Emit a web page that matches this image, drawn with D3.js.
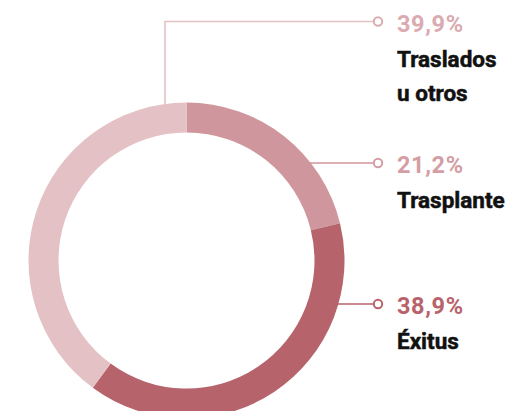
<!DOCTYPE html>
<html lang="es">
  <head>
    <meta charset="utf-8" />
    <title>Donut</title>
    <script src="https://d3js.org/d3.v7.min.js"></script>
    <style>
      body { margin: 0; background: #fff; }
      text { font-family: Roboto, sans-serif; }
    </style>
  </head>
  <body>
    <script>

    // data
    var categories = ["Trasplante", "Éxitus", "Traslados u otros"];
    var values = [21.2, 38.9, 39.9];
    var valueLabels = ["21,2%", "38,9%", "39,9%"];
    var colors = ["#cf979d", "#b6636b", "#e3c1c5"];
    var textColors = ["#d39ea4", "#b8636c", "#daabb0"];

    var w = 516, h = 411;
    var cx = 186.5, cy = 260.5;
    var outer = 158, inner = 128;

    var svg = d3.select("body")
      .append("svg")
        .attr("width", w)
        .attr("height", h);

    var data = categories.map((c, i) => ({name: c, value: values[i], label: valueLabels[i], color: colors[i], tcolor: textColors[i]}));

    var pie = d3.pie()
      .sort(null)
      .value(d => d.value);

    var arc = d3.arc()
      .innerRadius(inner)
      .outerRadius(outer);

    var arcs = pie(data);

    var g = svg.append("g")
      .attr("transform", `translate(${cx},${cy})`);

    g.selectAll("path")
      .data(arcs)
      .join("path")
        .attr("d", arc)
        .attr("fill", d => d.data.color);

    // label layout (y of leader line per category)
    var layout = {
      "Trasplante": {y: 163, lines: ["Trasplante"]},
      "Éxitus": {y: 304, lines: ["Éxitus"]},
      "Traslados u otros": {y: 21.5, lines: ["Traslados", "u otros"], topX: 165}
    };
    var dotX = 378, textX = 397;

    arcs.forEach(function(a) {
      var L = layout[a.data.name];
      var pts;
      if (L.topX !== undefined) {
        var dx = L.topX - cx;
        var sy = cy - Math.sqrt(outer * outer - dx * dx);
        pts = [[L.topX, sy], [L.topX, L.y], [dotX - 4, L.y]];
      } else {
        var dy = L.y - cy;
        var sx = cx + Math.sqrt(outer * outer - dy * dy);
        pts = [[sx - 1, L.y], [dotX - 4, L.y]];
      }
      svg.append("path")
        .attr("d", d3.line()(pts))
        .attr("fill", "none")
        .attr("stroke", a.data.color)
        .attr("stroke-width", 1.6);
      svg.append("circle")
        .attr("cx", dotX)
        .attr("cy", L.y)
        .attr("r", 4.2)
        .attr("fill", "#fff")
        .attr("stroke", a.data.tcolor)
        .attr("stroke-width", 2);
      svg.append("text")
        .attr("x", textX)
        .attr("y", L.y + 10)
        .attr("fill", a.data.tcolor)
        .attr("font-family", "'Open Sans', sans-serif")
        .attr("font-size", 23.5)
        .attr("font-weight", 700)
        .attr("letter-spacing", 0.6)
        .text(a.data.label);
      L.lines.forEach(function(t, i) {
        svg.append("text")
          .attr("x", textX)
          .attr("y", L.y + 45 + i * 34)
          .attr("fill", "#111")
          .attr("stroke", "#111")
          .attr("stroke-width", 0.5)
          .attr("font-size", 22.5)
          .attr("font-weight", 700)
          .text(t);
      });
    });

    </script>
  </body>
</html>
